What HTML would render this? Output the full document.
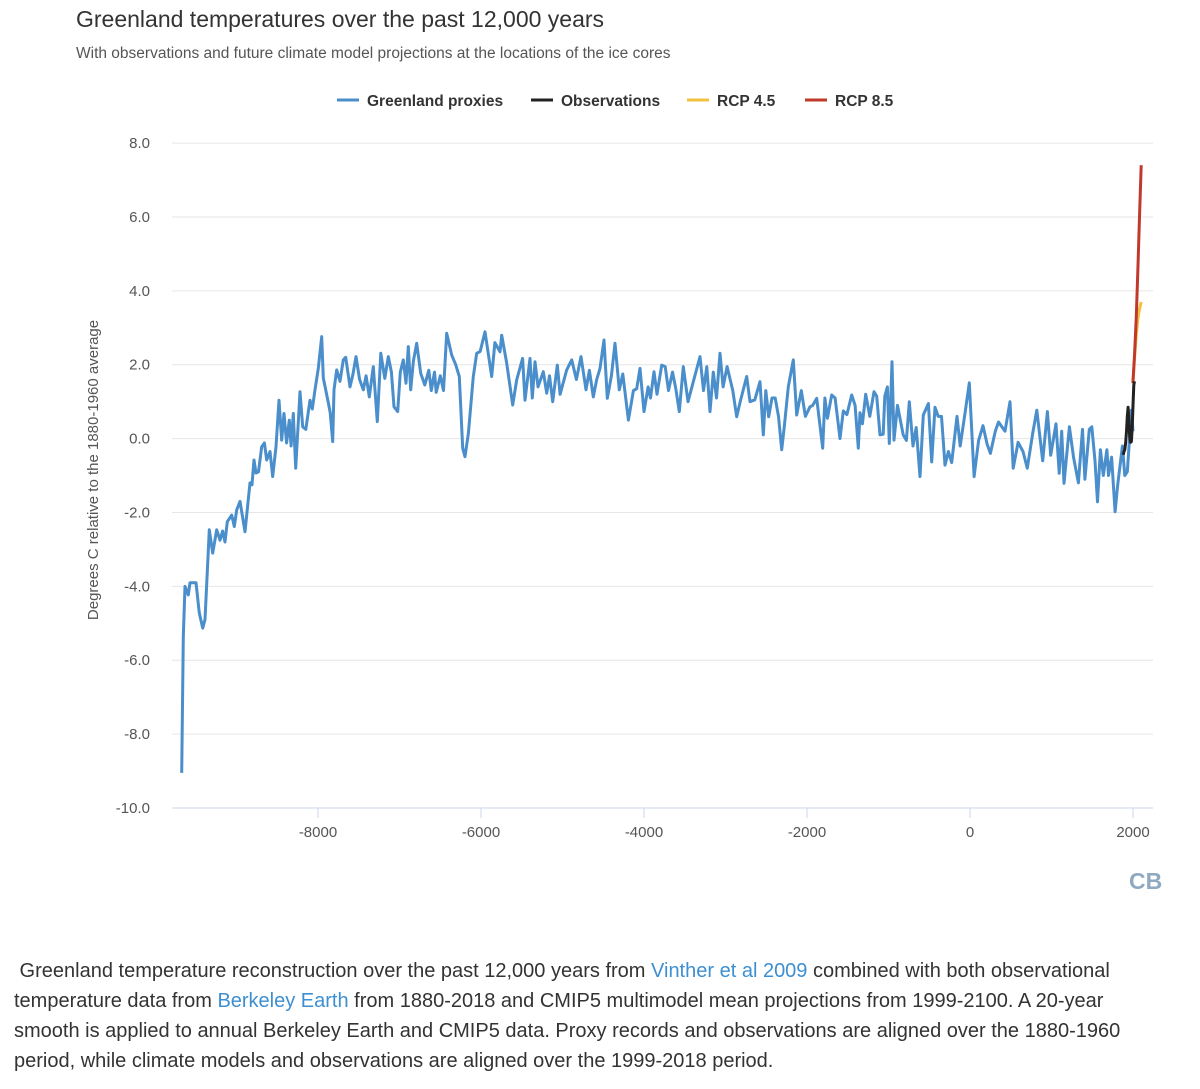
<!DOCTYPE html>
<html><head><meta charset="utf-8">
<style>
body{margin:0;background:#fff;font-family:"Liberation Sans","DejaVu Sans",sans-serif;}
#wrap{position:relative;width:1200px;height:1089px;overflow:hidden;}
.cap{position:absolute;left:14px;top:956px;width:1150px;font-size:20px;line-height:30px;color:#333;}
.cap a{color:#3d8fd1;text-decoration:none;}
</style></head><body>
<div id="wrap">
<svg id="chart" width="1200" height="920" style="position:absolute;left:0;top:0">
<text x="76" y="27" font-size="23" fill="#333">Greenland temperatures over the past 12,000 years</text>
<text x="76" y="58" font-size="15.5" fill="#555">With observations and future climate model projections at the locations of the ice cores</text>
<g id="legend" font-size="15.5" font-weight="bold" fill="#333"></g>
<g id="grid"></g>
<g id="yt" font-size="15" fill="#555" text-anchor="end"></g>
<g id="xt" font-size="15" fill="#555" text-anchor="middle"></g>
<text transform="translate(98,470) rotate(-90)" text-anchor="middle" font-size="15" fill="#555">Degrees C relative to the 1880-1960 average</text>
<g id="series"></g>
<text x="1129" y="889" font-size="23" font-weight="bold" fill="#8fa9c0">CB</text>
</svg>
<div class="cap">&nbsp;Greenland temperature reconstruction over the past 12,000 years from <a>Vinther et al 2009</a> combined with both observational temperature data from <a>Berkeley Earth</a> from 1880-2018 and CMIP5 multimodel mean projections from 1999-2100. A 20-year smooth is applied to annual Berkeley Earth and CMIP5 data. Proxy records and observations are aligned over the 1880-1960 period, while climate models and observations are aligned over the 1999-2018 period.</div>
</div>
<script>
const yTicks=[8,6,4,2,0,-2,-4,-6,-8,-10];
const xTicks=[-8000,-6000,-4000,-2000,0,2000];
const proxyYears=[-9672,-9653,-9632,-9591,-9571,-9497,-9457,-9415,-9387,-9334,-9292,-9243,-9202,-9170,-9141,-9113,-9059,-9027,-8998,-8957,-8896,-8834,-8810,-8785,-8761,-8730,-8691,-8658,-8630,-8589,-8556,-8515,-8478,-8446,-8417,-8385,-8352,-8330,-8303,-8274,-8221,-8188,-8150,-8098,-8070,-8037,-7996,-7955,-7935,-7873,-7850,-7820,-7804,-7771,-7730,-7689,-7660,-7607,-7570,-7534,-7490,-7444,-7410,-7370,-7321,-7272,-7230,-7180,-7137,-7100,-7067,-7022,-6990,-6953,-6920,-6892,-6863,-6830,-6789,-6740,-6690,-6640,-6610,-6570,-6550,-6500,-6460,-6421,-6360,-6310,-6266,-6225,-6196,-6155,-6094,-6053,-6010,-5951,-5869,-5830,-5767,-5746,-5685,-5611,-5562,-5489,-5460,-5399,-5370,-5337,-5300,-5235,-5194,-5160,-5120,-5064,-5030,-4949,-4887,-4830,-4773,-4712,-4670,-4622,-4580,-4540,-4491,-4450,-4400,-4356,-4303,-4260,-4192,-4130,-4090,-4049,-4000,-3950,-3920,-3877,-3840,-3783,-3740,-3700,-3650,-3610,-3567,-3518,-3460,-3400,-3313,-3270,-3230,-3190,-3150,-3110,-3067,-3030,-2980,-2910,-2862,-2820,-2740,-2700,-2640,-2577,-2536,-2505,-2470,-2430,-2390,-2350,-2310,-2280,-2229,-2168,-2126,-2070,-2020,-1963,-1930,-1881,-1807,-1780,-1750,-1697,-1655,-1595,-1555,-1510,-1452,-1410,-1370,-1350,-1320,-1280,-1230,-1178,-1145,-1104,-1065,-1045,-1014,-990,-957,-933,-890,-820,-780,-745,-700,-660,-613,-573,-510,-470,-430,-390,-350,-307,-265,-225,-160,-120,-60,-8,50,105,160,210,250,310,350,429,491,530,590,650,703,769,820,892,950,990,1055,1095,1125,1153,1220,1270,1330,1380,1410,1464,1494,1534,1565,1600,1635,1680,1700,1738,1780,1810,1870,1900,1930,1955,1980,2000];
const proxyVals=[-9.05,-5.36,-4.0,-4.23,-3.9,-3.9,-4.72,-5.13,-4.9,-2.47,-3.1,-2.47,-2.75,-2.5,-2.8,-2.25,-2.07,-2.38,-1.93,-1.7,-2.52,-1.2,-1.25,-0.58,-0.93,-0.9,-0.22,-0.12,-0.58,-0.35,-1.03,-0.22,1.04,-0.04,0.68,-0.12,0.5,-0.2,0.68,-0.8,1.27,0.32,0.25,1.04,0.8,1.32,1.9,2.76,1.64,0.96,0.7,-0.08,1.32,1.86,1.55,2.13,2.2,1.4,1.75,2.22,1.6,1.32,1.7,1.13,1.95,0.46,2.31,1.63,2.22,1.8,0.86,0.73,1.8,2.13,1.5,2.49,1.32,2.1,2.58,1.77,1.45,1.85,1.3,1.8,1.25,1.7,1.3,2.85,2.26,2.0,1.68,-0.26,-0.49,0.15,1.68,2.31,2.36,2.89,1.68,2.6,2.35,2.8,2.04,0.91,1.59,2.17,1.04,2.17,1.1,2.08,1.4,1.81,1.23,1.7,1.0,1.99,1.2,1.86,2.13,1.6,2.22,1.32,1.85,1.13,1.6,1.9,2.67,1.09,1.7,2.58,1.32,1.75,0.5,1.3,1.35,1.9,0.73,1.4,1.1,1.81,1.2,1.99,1.95,1.3,1.8,1.35,0.73,1.95,1.0,1.5,2.22,1.3,1.95,0.73,1.8,1.1,2.31,1.4,1.95,1.3,0.59,1.0,1.68,1.0,1.05,1.54,0.1,1.3,0.59,1.1,1.1,0.6,-0.3,0.3,1.4,2.13,0.64,1.3,0.6,0.86,0.9,1.09,-0.26,1.1,0.55,1.18,1.1,0.0,0.75,0.65,1.18,0.9,-0.26,0.7,0.4,1.2,0.6,1.27,1.15,0.1,0.12,1.15,1.4,-0.13,2.08,-0.04,0.9,0.1,-0.05,1.0,-0.2,0.3,-1.03,0.64,0.95,-0.63,0.85,0.6,0.6,-0.72,-0.35,-0.65,0.6,-0.2,0.7,1.51,-1.03,-0.05,0.35,-0.15,-0.4,0.2,0.45,0.2,1.0,-0.8,-0.1,-0.35,-0.8,0.14,0.77,-0.6,0.73,-0.45,0.4,-0.94,0.2,-1.21,0.32,-0.5,-1.2,0.25,-1.1,0.25,0.32,-0.6,-1.71,-0.3,-1.0,-0.3,-1.0,-0.5,-1.98,-1.3,-0.2,-1.0,-0.9,-0.1,0.77,0.2,0.5];
const obsYears=[1880,1890,1900,1910,1920,1930,1940,1950,1960,1970,1980,1990,2000,2010,2018];
const obsVals=[-0.44,-0.35,-0.3,-0.1,0.2,0.6,0.85,0.5,0.05,-0.1,-0.08,0.3,0.9,1.45,1.55];
const rcpYears=[1999,2020,2040,2060,2080,2100];
const rcp45=[1.5,2.2,2.8,3.25,3.5,3.7];
const rcp85=[1.5,2.3,3.3,4.6,6.0,7.4];
const NS='http://www.w3.org/2000/svg';
const X=yr=>970+yr*0.0815;
const Y=v=>438.6-v*36.94;
function mk(t,p,a){const e=document.createElementNS(NS,t);for(const k in a)e.setAttribute(k,a[k]);p.appendChild(e);return e;}
const grid=document.getElementById('grid'),yt=document.getElementById('yt'),xt=document.getElementById('xt');
yTicks.forEach(v=>{
 const l=mk('line',grid,{x1:172,x2:1153,y1:Y(v),y2:Y(v),stroke:v===-10?'#ccd6eb':'#e6e6e6','stroke-width':1});
 
 
 const t=mk('text',yt,{x:150,y:Y(v)+5});t.textContent=v.toFixed(1);
 
 
});
xTicks.forEach(v=>{
 const t=mk('text',xt,{x:X(v),y:837});t.textContent=String(v);
 
 
 const k=mk('line',grid,{x1:X(v),x2:X(v),y1:808,y2:818,stroke:'#ccd6eb'});
 
 
});
const ser=document.getElementById('series');
function line(xs,ys,col,name){
 const d=xs.map((x,i)=>(i?'L':'M')+X(x).toFixed(1)+','+Y(ys[i]).toFixed(1)).join('');
 const p=mk('path',ser,{d:d,fill:'none',stroke:col,'stroke-width':3,'stroke-linejoin':'round'});
 
 
}
line(proxyYears,proxyVals,'#4a8ecb','greenland-proxies-line');
line(rcpYears,rcp45,'#f2c13e','rcp45-line');
line(rcpYears,rcp85,'#c0392b','rcp85-line');
line(obsYears,obsVals,'#222','observations-line');
const leg=document.getElementById('legend');
[['Greenland proxies','#4a8ecb',337],['Observations','#222',531],['RCP 4.5','#f2c13e',687],['RCP 8.5','#c0392b',805]].forEach(([n,c,x])=>{
 const g=mk('g',leg,{});
 
 
 mk('line',g,{x1:x,x2:x+22,y1:100,y2:100,stroke:c,'stroke-width':3});
 const t=mk('text',g,{x:x+30,y:106});t.textContent=n;
});
</script>
</body></html>
